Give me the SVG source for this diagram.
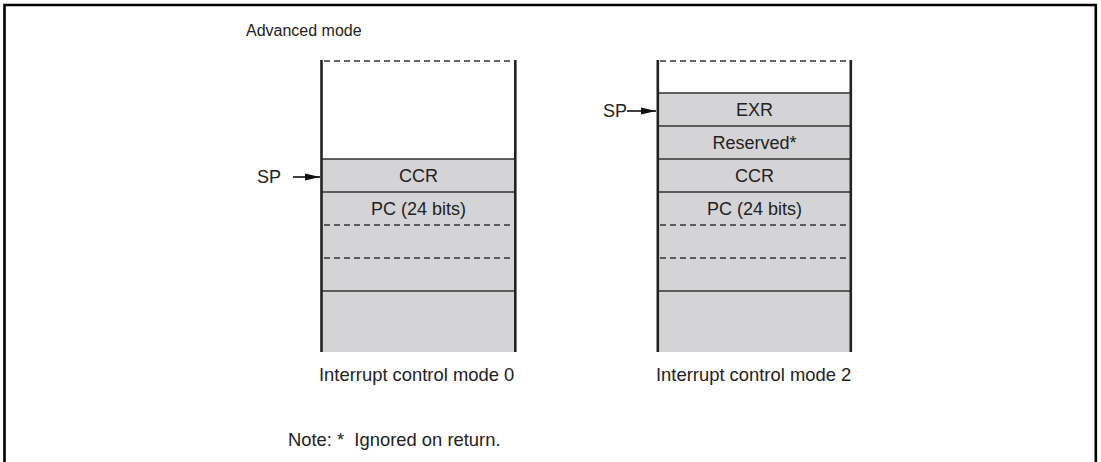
<svg xmlns="http://www.w3.org/2000/svg" width="1101" height="462" viewBox="0 0 1101 462">
<style>
text{font-family:"Liberation Sans",Arial,sans-serif;fill:#222;font-size:18px}
.c{text-anchor:middle}
.lbl{font-size:18.4px}
.wall{stroke:#222;stroke-width:2.6;fill:none}
.sep{stroke:#333;stroke-width:1.4;fill:none}
.dash{stroke:#333;stroke-width:1.4;stroke-dasharray:6 4;fill:none}
.fill{fill:#d4d4d6}
.arr{stroke:#111;stroke-width:1.6;fill:none;marker-end:url(#ah)}
</style>
<defs>
<marker id="ah" markerWidth="15" markerHeight="9" refX="15" refY="4.5" orient="auto" markerUnits="userSpaceOnUse">
<path d="M0,1 L15,4.5 L0,8 Z" fill="#111"/>
</marker>
</defs>
<rect width="1101" height="462" fill="#fff"/>
<path d="M4.5,462 V5 H1095.8 V462" fill="none" stroke="#000" stroke-width="2.6"/>
<text x="246" y="36" style="font-size:16px">Advanced mode</text>

<g id="stack0">
<rect class="fill" x="322" y="159" width="193" height="193"/>
<line class="dash" x1="324" y1="61" x2="514" y2="61"/>
<line class="sep" x1="322" y1="159" x2="515" y2="159"/>
<line class="sep" x1="322" y1="192" x2="515" y2="192"/>
<line class="dash" x1="324" y1="225" x2="514" y2="225"/>
<line class="dash" x1="324" y1="258" x2="514" y2="258"/>
<line class="sep" x1="322" y1="291" x2="515" y2="291"/>
<line class="wall" x1="321.5" y1="60" x2="321.5" y2="352"/>
<line class="wall" x1="515.3" y1="60" x2="515.3" y2="352"/>
<text class="c" x="418.5" y="182">CCR</text>
<text class="c" x="418.5" y="215">PC (24 bits)</text>
<text class="lbl" x="319" y="381">Interrupt control mode 0</text>
</g>

<g id="stack2">
<rect class="fill" x="658" y="93" width="193" height="259"/>
<line class="dash" x1="660" y1="61" x2="850" y2="61"/>
<line class="sep" x1="658" y1="93" x2="851" y2="93"/>
<line class="sep" x1="658" y1="126" x2="851" y2="126"/>
<line class="sep" x1="658" y1="159" x2="851" y2="159"/>
<line class="sep" x1="658" y1="192" x2="851" y2="192"/>
<line class="dash" x1="660" y1="225" x2="850" y2="225"/>
<line class="dash" x1="660" y1="258" x2="850" y2="258"/>
<line class="sep" x1="658" y1="291" x2="851" y2="291"/>
<line class="wall" x1="657.8" y1="60" x2="657.8" y2="352"/>
<line class="wall" x1="850.8" y1="60" x2="850.8" y2="352"/>
<text class="c" x="754.5" y="116">EXR</text>
<text class="c" x="754.5" y="149">Reserved*</text>
<text class="c" x="754.5" y="182">CCR</text>
<text class="c" x="754.5" y="215">PC (24 bits)</text>
<text class="lbl" x="656" y="381">Interrupt control mode 2</text>
</g>

<g id="sp0">
<text x="257" y="183">SP</text>
</g>
<g id="sp2">
<text x="603" y="117">SP</text>
</g>

<g id="connectors">
<line class="arr" x1="293" y1="177" x2="320" y2="177"/>
<line class="arr" x1="627" y1="111" x2="656" y2="111"/>
</g>

<text class="lbl" x="288" y="446">Note: * <tspan dx="5">Ignored on return.</tspan></text>
</svg>
